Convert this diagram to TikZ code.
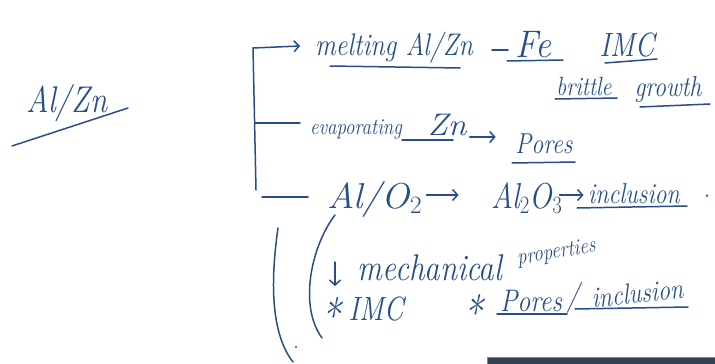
\documentclass[tikz,border=0pt]{standalone}
\usetikzlibrary{arrows.meta}
\definecolor{inkblue}{RGB}{38,78,138}
\definecolor{barfill}{RGB}{52,66,88}
\definecolor{barline}{RGB}{90,140,205}
\tikzset{
  ink/.style={draw=inkblue, line width=1.5pt, line cap=round, line join=round},
  inkarrow/.style={ink, -{Straight Barb[length=5pt,width=11pt,line width=1.5pt]}},
  hw/.style={text=inkblue, inner sep=0pt, anchor=base, yscale=1.2, font=\itshape\fontsize{#1}{#1}\selectfont},
  hw/.default=22
}
\begin{document}
\begin{tikzpicture}[x=1pt,y=-1pt]
\useasboundingbox (0,0) rectangle (715,364);

% title
\node[hw=31] (alzn) at (67,112) {Al/Zn};
\draw[ink] (12,146) -- (128,108);

% bracket
\coordinate (btop) at (253,48);
\coordinate (bmid) at (255,123);
\coordinate (bbot) at (256,190);
\coordinate (barr) at (300,46);
\coordinate (bmidend) at (300,123);
\coordinate (blow1) at (262,197);
\coordinate (blow2) at (308,197);
\draw[ink] (bbot) -- (btop);
\draw[inkarrow] (btop) -- (barr);
\draw[ink] (bmid) -- (bmidend);
\draw[ink] (blow1) -- (blow2);

% row 1
\node[hw=26] (melt) at (394,55) {melting Al/Zn};
\draw[ink] (330,66) -- (460,68);
\coordinate (dash1) at (492,50);
\coordinate (dash2) at (508,50);
\draw[ink] (dash1) -- (dash2);
\node[hw=32,xscale=1.1] (fe) at (533,57) {Fe};
\draw[ink] (507,61) -- (563,60);
\node[hw=28] (imc) at (627,56) {IMC};
\draw[ink] (605,63) -- (657,59);
\node[hw=22] (brittle) at (584,95) {brittle};
\draw[ink] (555,99) -- (617,98);
\node[hw=24] (growth) at (668,96) {growth};
\draw[ink] (640,107) -- (710,104);

% row 2
\node[hw=19] (evap) at (356,134) {evaporating};
\node[hw=26,xscale=1.3] (zn) at (447,135) {Zn};
\draw[ink] (402,140) -- (453,140);
\node[hw=24] (pores) at (544,153) {Pores};
\draw[ink] (512,163) -- (575,162);
\draw[inkarrow] ([xshift=3pt,yshift=-2pt]zn.base east) -- ++(26,0);

% row 3
\node[hw=30,xscale=1.25] (alo) at (375,208) {Al/O$_2$};
\node[hw=30] (alox) at (527,208) {Al$_2$O$_3$};
\node[hw=24] (incl) at (634,203) {inclusion};
\node[hw=22] (dot) at (707,197) {.};
\draw[ink] (577,208) -- (687,206);
\draw[inkarrow] ([xshift=4pt,yshift=13pt]alo.base east) -- ++(32,0);
\draw[inkarrow] ([xshift=-3pt,yshift=13pt]alox.base east) -- ++(24,0);

% row 4
\coordinate (dtop) at (335,262);
\coordinate (dbot) at (335,286);
\draw[inkarrow] (dtop) -- (dbot);
\node[hw=31] (mech) at (430,280) {mechanical};
\node[hw=19,rotate=8] (prop) at (557,258) {properties};

% row 5
\node[hw=40] (star1) at (330,333) {*};
\node[hw=28] (imc2) at (376,320) {IMC};
\node[hw=40] (star2) at (472,330) {*};
\node[hw=26] (pores2) at (531,311) {Pores};
\draw[ink] (497,314) -- (567,314);
\node[hw=26] (slash) at (573,305) {/};
\node[hw=24,rotate=5] (incl2) at (638,303) {inclusion};
\draw[ink] (575,309) -- (688,307);

% parentheses
\draw[ink] (335,215) .. controls (312,245) and (298,305) .. (322,338);
\draw[ink] (278,228) .. controls (272,270) and (268,330) .. (293,362);
\fill[inkblue] (296,347) circle (1.2pt);

% screen bar
\draw[draw=barline, fill=barfill, line width=1pt] (487,357) rectangle (716,366);
\end{tikzpicture}
\end{document}
